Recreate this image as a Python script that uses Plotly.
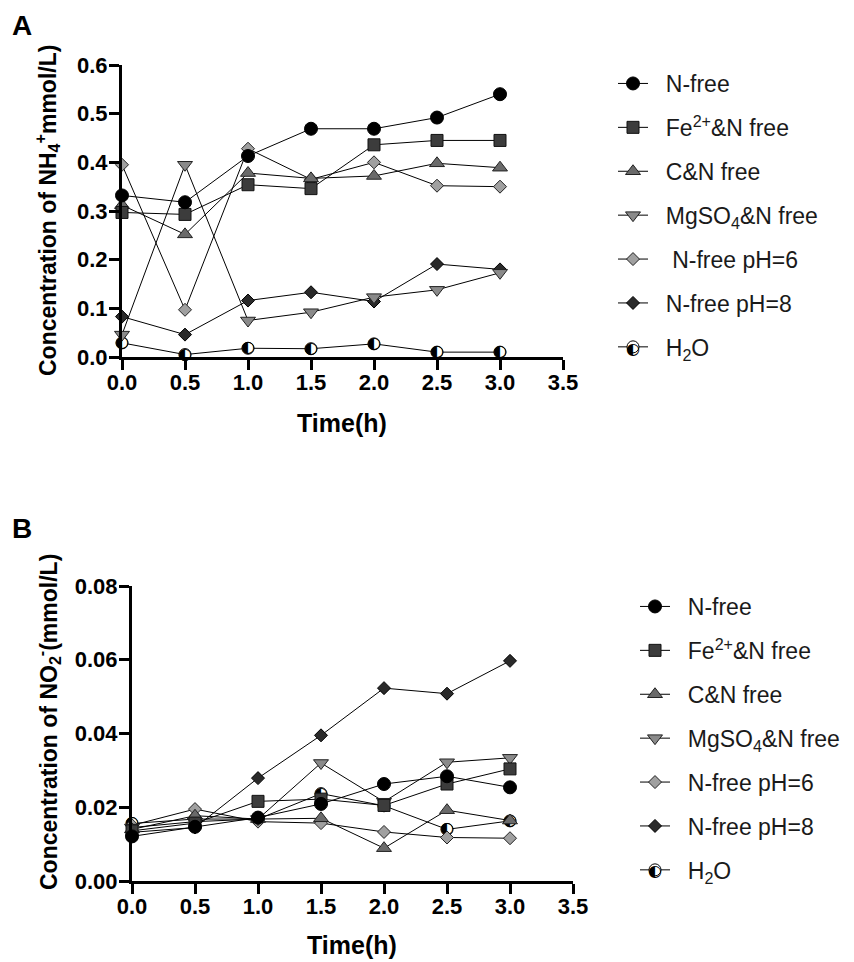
import plotly.graph_objects as go

# ---------------- data ----------------
time_h = [0.0, 0.5, 1.0, 1.5, 2.0, 2.5, 3.0]
series_names = ["N-free", "Fe<sup>2+</sup>&N free", "C&N free", "MgSO<sub>4</sub>&N free",
                "N-free pH=6", "N-free pH=8", "H<sub>2</sub>O"]

# Panel A: NH4+ (mmol/L)
nh4_nfree = [0.332, 0.318, 0.413, 0.469, 0.469, 0.492, 0.540]
nh4_fe = [0.297, 0.293, 0.354, 0.346, 0.436, 0.445, 0.445]
nh4_cn = [0.312, 0.252, 0.378, 0.367, 0.372, 0.398, 0.389]
nh4_mg = [0.046, 0.395, 0.075, 0.092, 0.123, 0.138, 0.173]
nh4_ph6 = [0.395, 0.097, 0.428, 0.365, 0.400, 0.352, 0.350]
nh4_ph8 = [0.083, 0.046, 0.116, 0.133, 0.114, 0.191, 0.180]
nh4_h2o = [0.029, 0.005, 0.018, 0.017, 0.027, 0.010, 0.010]

# Panel B: NO2- (mmol/L)
no2_nfree = [0.0121, 0.0147, 0.0172, 0.0209, 0.0263, 0.0284, 0.0254]
no2_fe = [0.0136, 0.0157, 0.0216, 0.0222, 0.0205, 0.0263, 0.0304]
no2_cn = [0.0140, 0.0177, 0.0168, 0.0170, 0.0089, 0.0192, 0.0164]
no2_mg = [0.0145, 0.0161, 0.0168, 0.0320, 0.0215, 0.0322, 0.0334]
no2_ph6 = [0.0151, 0.0195, 0.0161, 0.0157, 0.0133, 0.0118, 0.0116]
no2_ph8 = [0.0132, 0.0145, 0.0279, 0.0395, 0.0523, 0.0508, 0.0597]
no2_h2o = [0.0156, 0.0168, 0.0168, 0.0237, 0.0204, 0.0140, 0.0163]

x_ticks = [0.0, 0.5, 1.0, 1.5, 2.0, 2.5, 3.0, 3.5]
yA_ticks = [0.0, 0.1, 0.2, 0.3, 0.4, 0.5, 0.6]
yB_ticks = [0.00, 0.02, 0.04, 0.06, 0.08]

# ---------------- styles ----------------
FONT = "Liberation Sans, Arial, sans-serif"
styles = [
    dict(symbol="circle", size=13, color="#000000", line=dict(color="#000000", width=1)),
    dict(symbol="square", size=12, color="#3c3c3c", line=dict(color="#111111", width=1)),
    dict(symbol="triangle-up", size=13, color="#6a6a6a", line=dict(color="#222222", width=1)),
    dict(symbol="triangle-down", size=13, color="#8a8a8a", line=dict(color="#222222", width=1)),
    dict(symbol="diamond", size=10, color="#a0a0a0", line=dict(color="#222222", width=1)),
    dict(symbol="diamond", size=10, color="#2a2a2a", line=dict(color="#000000", width=1)),
    dict(symbol="circle", size=12, color="#ffffff", line=dict(color="#000000", width=1)),
]
prefix = "\u00a0\u00a0"
legend_A = [prefix + n for n in series_names]
legend_A[4] = prefix + "\u00a0" + series_names[4]
legend_B = [prefix + n for n in series_names]

fig = go.Figure()

def add_panel(ys, xaxis, yaxis, legend, names, grp):
    order = list(range(len(ys)))[::-1]  # draw last series first so N-free is on top
    for i in order:
        fig.add_trace(go.Scatter(
            x=time_h, y=ys[i], mode="lines+markers", name=names[i],
            xaxis=xaxis, yaxis=yaxis, legend=legend, legendgroup=f"{grp}{i}",
            legendrank=i + 1,
            line=dict(color="#000000", width=1), marker=styles[i], cliponaxis=False,
        ))
        if i == 6:
            fig.add_trace(go.Scatter(
                x=time_h, y=ys[i], mode="text", text=["\u25d0"] * len(time_h),
                textposition="middle center", xaxis=xaxis, yaxis=yaxis,
                textfont=dict(family="DejaVu Sans", size=16, color="#000000"),
                showlegend=False, cliponaxis=False, hoverinfo="skip",
            ))

add_panel([nh4_nfree, nh4_fe, nh4_cn, nh4_mg, nh4_ph6, nh4_ph8, nh4_h2o], "x", "y", "legend", legend_A, "a")
add_panel([no2_nfree, no2_fe, no2_cn, no2_mg, no2_ph6, no2_ph8, no2_h2o], "x2", "y2", "legend2", legend_B, "b")

# page has an 8px body margin; convert window pixels to paper fractions
OFF = 8
W, H = 854 - OFF, 962 - OFF
def px(x):
    return (x - OFF) / W
def py(y):
    return 1 - (y - OFF) / H

axis_common = dict(
    showline=True, linecolor="#000000", linewidth=3, ticks="outside", ticklen=10,
    tickwidth=3, tickcolor="#000000", showgrid=False, zeroline=False,
    tickfont=dict(family=FONT, size=22, color="#000000", weight="bold"),
)

legend_common = dict(
    font=dict(family=FONT, size=23, color="#1a1a1a"), bgcolor="rgba(0,0,0,0)",
    tracegroupgap=11, traceorder="grouped", itemwidth=30,
    xanchor="left", yanchor="top",
)

fig.update_layout(
    width=W, height=H, margin=dict(l=0, r=0, t=0, b=0, autoexpand=False),
    paper_bgcolor="#ffffff", plot_bgcolor="#ffffff",
    xaxis=dict(domain=[px(122), px(563)], range=[0, 3.5], tickvals=x_ticks,
               tickformat=".1f", anchor="y", ticklabelstandoff=-6, **axis_common),
    yaxis=dict(domain=[py(357), py(65)], range=[0, 0.6], tickvals=yA_ticks,
               tickformat=".1f", anchor="x", ticklabelstandoff=-3, **axis_common),
    xaxis2=dict(domain=[px(132), px(573)], range=[0, 3.5], tickvals=x_ticks,
                tickformat=".1f", anchor="y2", ticklabelstandoff=-6, **axis_common),
    yaxis2=dict(domain=[py(881), py(586)], range=[0, 0.08], tickvals=yB_ticks,
                tickformat=".2f", anchor="x2", ticklabelstandoff=-3, **axis_common),
    legend=dict(x=px(613), y=py(62), **legend_common),
    legend2=dict(x=px(635), y=py(585), **legend_common),
    showlegend=True,
)

title_font = dict(family=FONT, size=25, color="#000000", weight="bold")
ytitle_font = dict(family=FONT, size=23, color="#000000", weight="bold")
ann = [
    dict(text="A", x=px(22), y=py(25), font=dict(family=FONT, size=28, color="#000000", weight="bold")),
    dict(text="B", x=px(22), y=py(528), font=dict(family=FONT, size=28, color="#000000", weight="bold")),
    dict(text="Time(h)", x=px(342), y=py(423), font=title_font),
    dict(text="Time(h)", x=px(352), y=py(945), font=title_font),
    dict(text="Concentration of NH<sub>4</sub><sup>+</sup>mmol/L)", x=px(47), y=py(211),
         textangle=-90, font=ytitle_font),
    dict(text="Concentration of NO<sub>2</sub><sup>-</sup>(mmol/L)", x=px(48), y=py(722),
         textangle=-90, font=ytitle_font),
    # half-filled glyphs on the H2O legend markers
    dict(text="\u25d0", x=px(633), y=py(348), font=dict(family="DejaVu Sans", size=16, color="#000000")),
    dict(text="\u25d0", x=px(655), y=py(870), font=dict(family="DejaVu Sans", size=16, color="#000000")),
]
for a in ann:
    fig.add_annotation(xref="paper", yref="paper", showarrow=False,
                       xanchor="center", yanchor="middle", **a)

fig.write_html("out.html")
